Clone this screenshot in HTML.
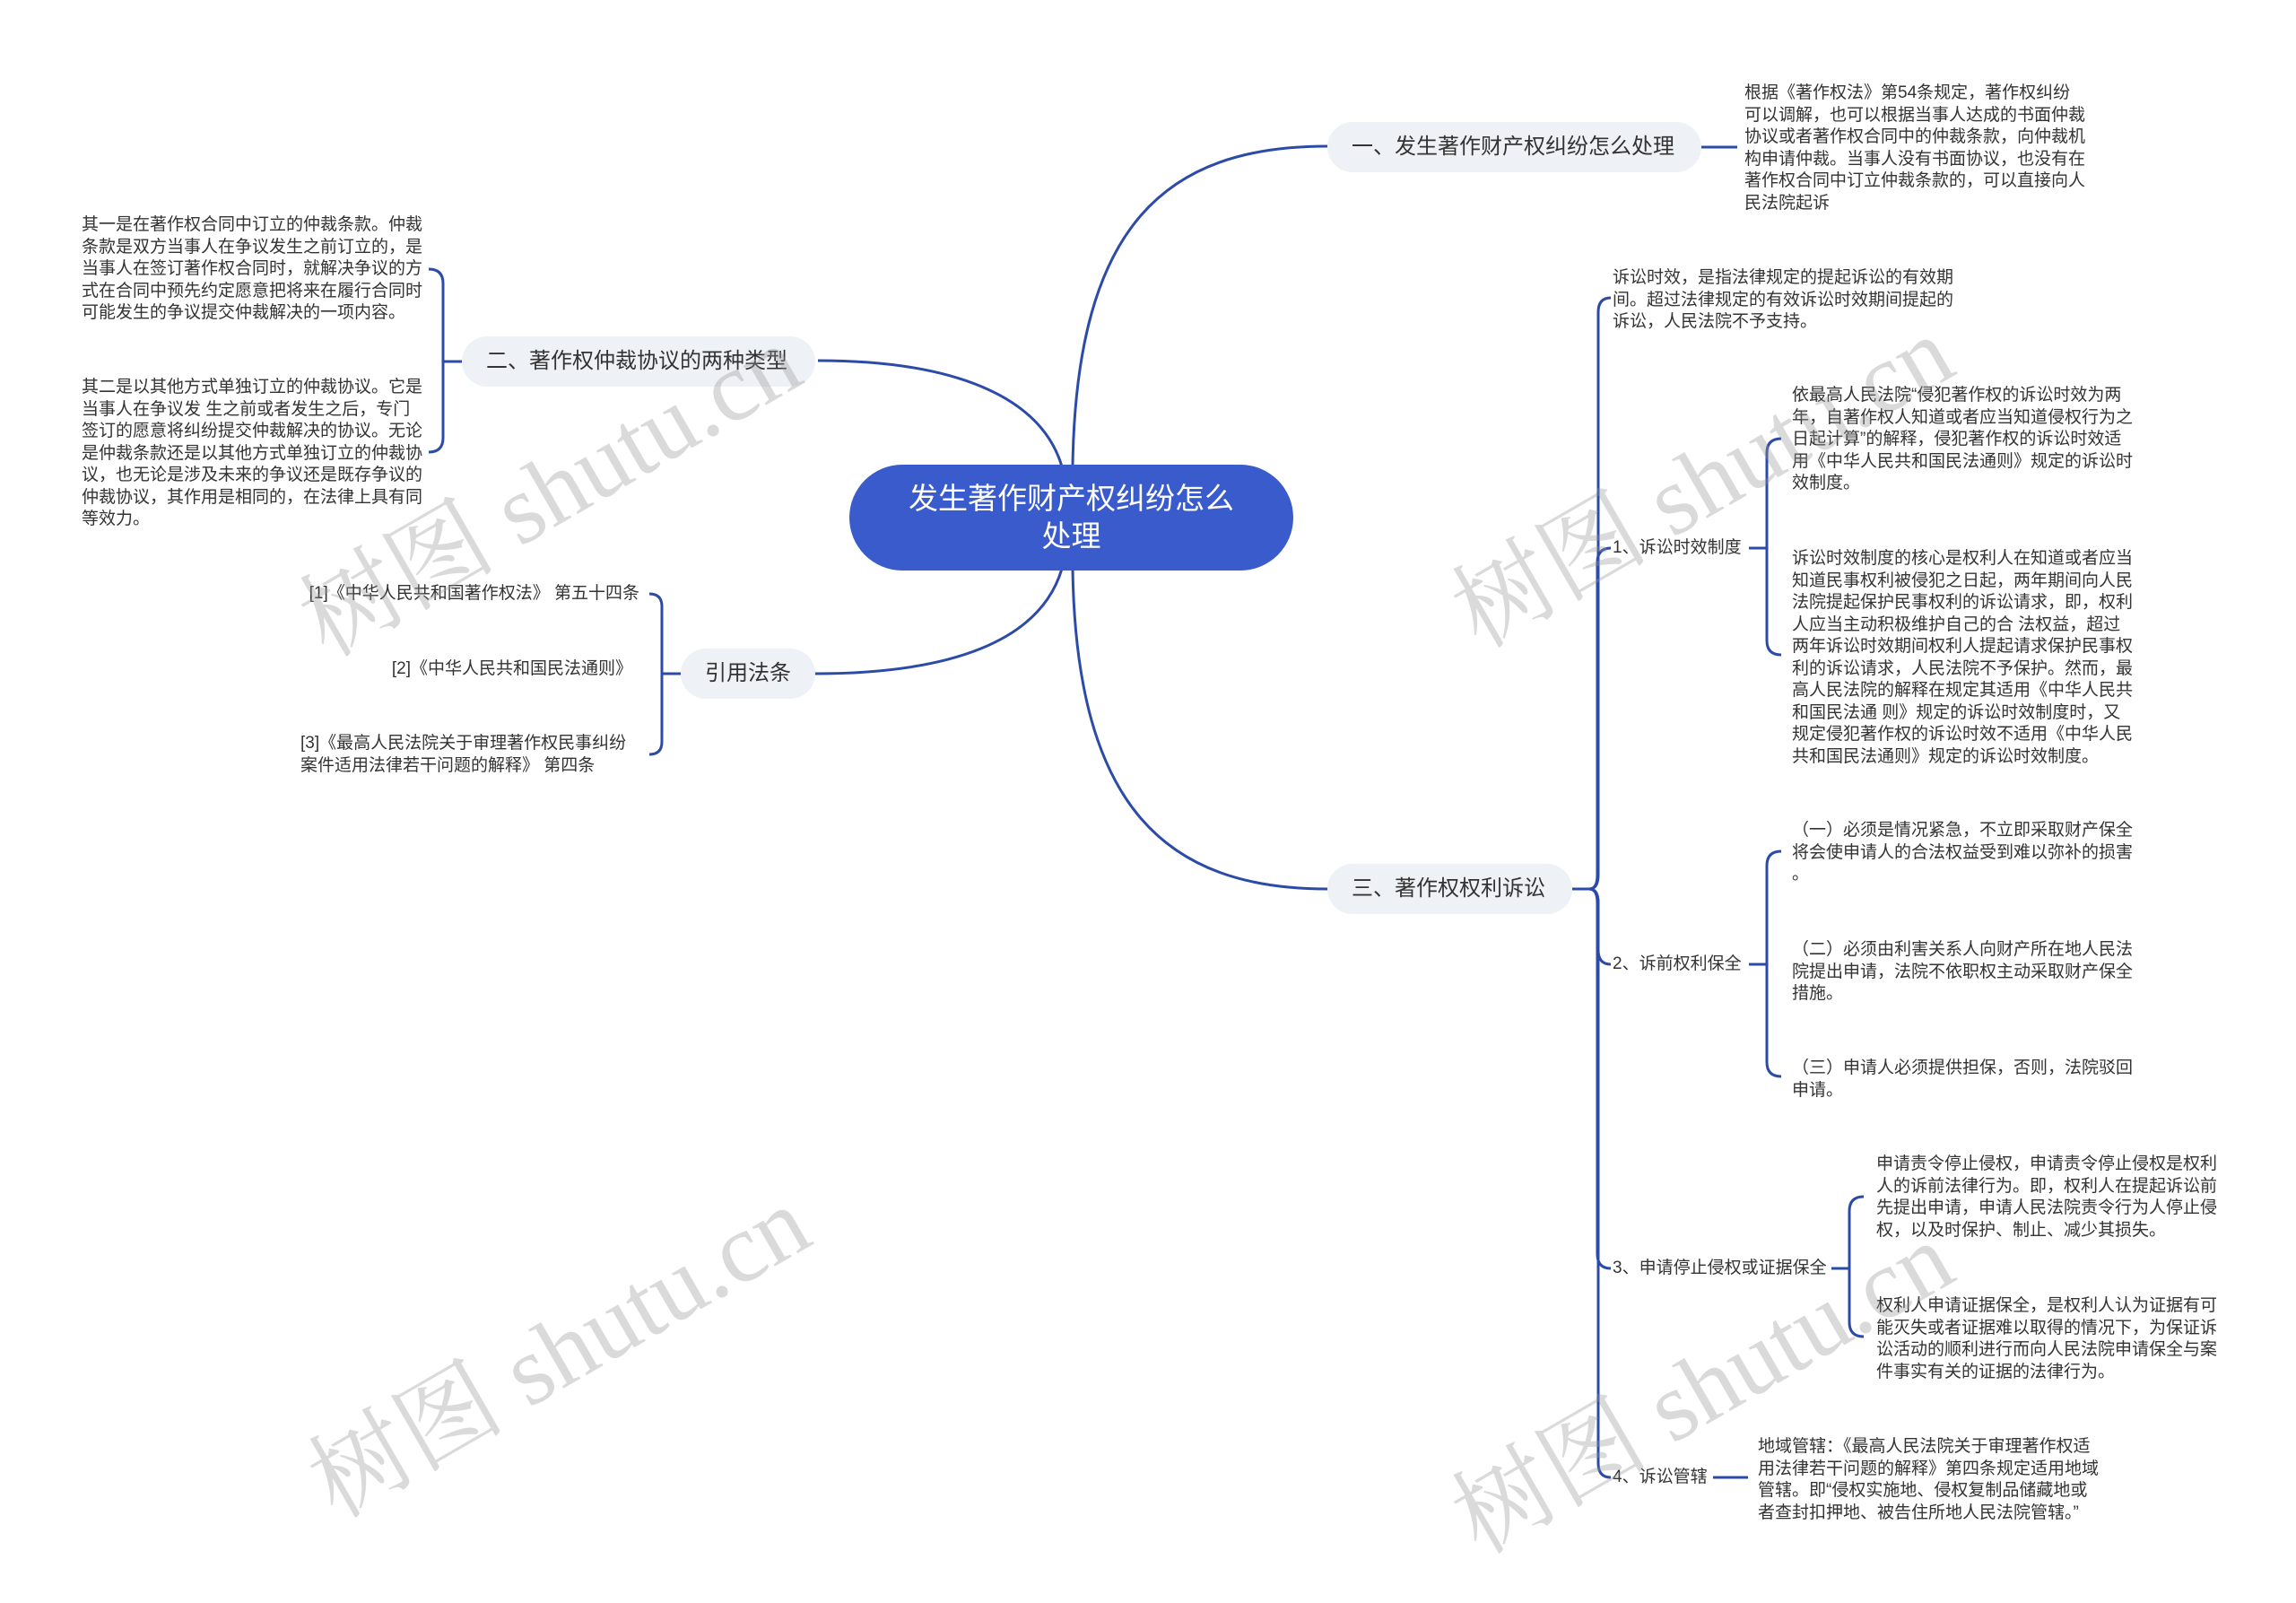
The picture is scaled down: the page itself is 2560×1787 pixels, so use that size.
<!DOCTYPE html>
<html><head><meta charset="utf-8">
<style>
html,body{margin:0;padding:0;background:#fff;}
body{width:2560px;height:1787px;position:relative;overflow:hidden;font-family:"Liberation Sans","Noto Sans CJK SC",sans-serif;color:#333;}
.t{position:absolute;font-size:19px;line-height:24.5px;white-space:nowrap;color:#333;}
.n{position:absolute;background:#eef1f6;border-radius:28px;font-size:24px;line-height:56px;height:56px;color:#333;white-space:nowrap;box-sizing:border-box;}
.wm{position:absolute;font-family:"Liberation Serif","Noto Serif CJK SC",serif;font-size:110px;color:rgba(150,150,150,0.35);white-space:nowrap;transform:rotate(-30deg);transform-origin:center;}
svg{position:absolute;left:0;top:0;}
</style></head><body>
<svg width="2560" height="1787" viewBox="0 0 2560 1787" fill="none" stroke="#2c4ba8" stroke-width="3">
<path d="M1196 520 C1200 250 1300 163 1480 163"/>
<path d="M1184 520 C1160 440 1060 402 912 402"/>
<path d="M1184 634 C1160 715 1060 751 908 751"/>
<path d="M1196 634 C1200 900 1300 991 1480 991"/>
<path d="M1897 164 L1937 164"/>
<path d="M515 403 L494 403"/>
<path d="M478 300 Q494 300 494 316 L494 488 Q494 504 478 504"/>
<path d="M759 751 L738 751"/>
<path d="M724 662 Q738 662 738 676 L738 827 Q738 841 724 841"/>
<path d="M1753 991 L1772 991"/>
<path d="M1772 991 Q1782 991 1782 975 L1782 348 Q1782 332 1796 332"/>
<path d="M1772 991 Q1781 991 1781 975 L1781 627 Q1781 611 1796 611"/>
<path d="M1772 991 Q1782 991 1782 1007 L1782 1059 Q1782 1075 1796 1075"/>
<path d="M1772 991 Q1781 991 1781 1007 L1781 1398 Q1781 1414 1796 1414"/>
<path d="M1772 991 Q1782 991 1782 1007 L1782 1631 Q1782 1647 1796 1647"/>
<path d="M1950 611 L1970 611"/>
<path d="M1986 489 Q1970 489 1970 505 L1970 714 Q1970 730 1986 730"/>
<path d="M1950 1075 L1970 1075"/>
<path d="M1986 949 Q1970 949 1970 965 L1970 1184 Q1970 1200 1986 1200"/>
<path d="M2042 1414 L2062 1414"/>
<path d="M2078 1334 Q2062 1334 2062 1350 L2062 1474 Q2062 1490 2078 1490"/>
<path d="M1910 1647 L1949 1647"/>
</svg>

<div style="position:absolute;left:947px;top:518px;width:495px;height:118px;border-radius:59px;background:#3a5bcc;color:#fff;font-size:33px;line-height:42px;text-align:center;box-sizing:border-box;padding-top:17px;">发生著作财产权纠纷怎么<br>处理</div>

<div class="n" style="left:1480px;top:136px;width:417px;padding-left:27px;">一、发生著作财产权纠纷怎么处理</div>
<div class="n" style="left:515px;top:375px;width:394px;padding-left:27px;">二、著作权仲裁协议的两种类型</div>
<div class="n" style="left:759px;top:723px;width:150px;padding-left:27px;">引用法条</div>
<div class="n" style="left:1480px;top:963px;width:273px;padding-left:27px;">三、著作权权利诉讼</div>

<div class="t" style="left:1945px;top:92px;">根据《著作权法》第54条规定，著作权纠纷<br>可以调解，也可以根据当事人达成的书面仲裁<br>协议或者著作权合同中的仲裁条款，向仲裁机<br>构申请仲裁。当事人没有书面协议，也没有在<br>著作权合同中订立仲裁条款的，可以直接向人<br>民法院起诉</div>

<div class="t" style="left:91px;top:239px;">其一是在著作权合同中订立的仲裁条款。仲裁<br>条款是双方当事人在争议发生之前订立的，是<br>当事人在签订著作权合同时，就解决争议的方<br>式在合同中预先约定愿意把将来在履行合同时<br>可能发生的争议提交仲裁解决的一项内容。</div>
<div class="t" style="left:91px;top:420px;">其二是以其他方式单独订立的仲裁协议。它是<br>当事人在争议发 生之前或者发生之后，专门<br>签订的愿意将纠纷提交仲裁解决的协议。无论<br>是仲裁条款还是以其他方式单独订立的仲裁协<br>议，也无论是涉及未来的争议还是既存争议的<br>仲裁协议，其作用是相同的，在法律上具有同<br>等效力。</div>

<div class="t" style="right:1847px;top:650px;">[1]《中华人民共和国著作权法》 第五十四条</div>
<div class="t" style="right:1855px;top:734px;">[2]《中华人民共和国民法通则》</div>
<div class="t" style="left:335px;top:817px;">[3]《最高人民法院关于审理著作权民事纠纷<br>案件适用法律若干问题的解释》 第四条</div>

<div class="t" style="left:1798px;top:298px;">诉讼时效，是指法律规定的提起诉讼的有效期<br>间。超过法律规定的有效诉讼时效期间提起的<br>诉讼，人民法院不予支持。</div>
<div class="t" style="left:1798px;top:599px;">1、诉讼时效制度</div>
<div class="t" style="left:1998px;top:429px;">依最高人民法院“侵犯著作权的诉讼时效为两<br>年，自著作权人知道或者应当知道侵权行为之<br>日起计算”的解释，侵犯著作权的诉讼时效适<br>用《中华人民共和国民法通则》规定的诉讼时<br>效制度。</div>
<div class="t" style="left:1998px;top:611px;">诉讼时效制度的核心是权利人在知道或者应当<br>知道民事权利被侵犯之日起，两年期间向人民<br>法院提起保护民事权利的诉讼请求，即，权利<br>人应当主动积极维护自己的合 法权益，超过<br>两年诉讼时效期间权利人提起请求保护民事权<br>利的诉讼请求，人民法院不予保护。然而，最<br>高人民法院的解释在规定其适用《中华人民共<br>和国民法通 则》规定的诉讼时效制度时，又<br>规定侵犯著作权的诉讼时效不适用《中华人民<br>共和国民法通则》规定的诉讼时效制度。</div>

<div class="t" style="left:1798px;top:1063px;">2、诉前权利保全</div>
<div class="t" style="left:1998px;top:914px;">（一）必须是情况紧急，不立即采取财产保全<br>将会使申请人的合法权益受到难以弥补的损害<br>。</div>
<div class="t" style="left:1998px;top:1047px;">（二）必须由利害关系人向财产所在地人民法<br>院提出申请，法院不依职权主动采取财产保全<br>措施。</div>
<div class="t" style="left:1998px;top:1179px;">（三）申请人必须提供担保，否则，法院驳回<br>申请。</div>

<div class="t" style="left:1798px;top:1402px;">3、申请停止侵权或证据保全</div>
<div class="t" style="left:2092px;top:1286px;">申请责令停止侵权，申请责令停止侵权是权利<br>人的诉前法律行为。即，权利人在提起诉讼前<br>先提出申请，申请人民法院责令行为人停止侵<br>权，以及时保护、制止、减少其损失。</div>
<div class="t" style="left:2092px;top:1444px;">权利人申请证据保全，是权利人认为证据有可<br>能灭失或者证据难以取得的情况下，为保证诉<br>讼活动的顺利进行而向人民法院申请保全与案<br>件事实有关的证据的法律行为。</div>

<div class="t" style="left:1798px;top:1635px;">4、诉讼管辖</div>
<div class="t" style="left:1960px;top:1601px;">地域管辖：《最高人民法院关于审理著作权适<br>用法律若干问题的解释》第四条规定适用地域<br>管辖。即“侵权实施地、侵权复制品储藏地或<br>者查封扣押地、被告住所地人民法院管辖。”</div>

<div class="wm" style="left:300px;top:460px;">树图 shutu.cn</div>
<div class="wm" style="left:1585px;top:450px;">树图 shutu.cn</div>
<div class="wm" style="left:310px;top:1420px;">树图 shutu.cn</div>
<div class="wm" style="left:1585px;top:1460px;">树图 shutu.cn</div>
</body></html>
